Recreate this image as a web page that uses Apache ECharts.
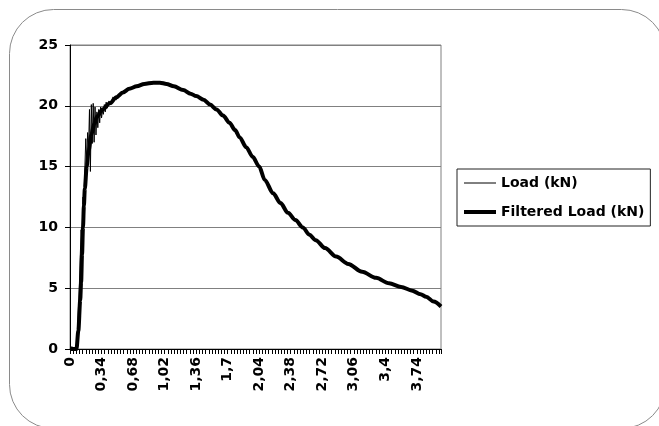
<!DOCTYPE html>
<html>
<head>
<meta charset="utf-8">
<script src="https://cdn.jsdelivr.net/npm/echarts@6/dist/echarts.min.js"></script>
<style>
  html, body { margin: 0; padding: 0; background: #fff; }
  #chart { width: 659px; height: 426px; }
</style>
</head>
<body>
<div id="chart"></div>
<script>
// Load (kN) - raw signal, noisy while rising
const loadX = [0, 0.01, 0.02, 0.03, 0.04, 0.05, 0.06, 0.07, 0.08, 0.09, 0.10, 0.11, 0.12, 0.13, 0.14,
  0.15, 0.16, 0.17, 0.18, 0.19, 0.20, 0.21, 0.22, 0.23, 0.24, 0.25, 0.26, 0.27, 0.28, 0.29, 0.30,
  0.31, 0.32, 0.33, 0.34, 0.35, 0.36, 0.37, 0.38, 0.39, 0.40, 0.42, 0.44, 0.46, 0.50, 0.57, 0.64,
  0.72, 0.80, 0.90, 0.97, 1.04, 1.12, 1.22, 1.30, 1.36, 1.44, 1.51, 1.58, 1.65, 1.72, 1.78, 1.83,
  1.90, 1.97, 2.04, 2.10, 2.19, 2.27, 2.35, 2.43, 2.51, 2.58, 2.65, 2.75, 2.87, 3.00, 3.15, 3.30,
  3.44, 3.57, 3.69, 3.78, 3.84, 3.92, 4.00];
const loadY = [0, 0, 0.2, 0, 0, 0.1, 0, 0.3, 1.5, 3.2, 5.0, 7.5, 9.8, 8.6, 12.5,
  11.0, 14.8, 17.3, 15.2, 17.8, 16.4, 19.7, 14.6, 20.1, 16.9, 20.2, 17.0, 19.9, 17.6, 19.5, 18.2,
  19.7, 18.6, 19.9, 19.0, 19.6, 19.3, 20.1, 19.5, 20.3, 19.8, 20.4, 20.1, 20.7, 20.5, 21.2, 21.4,
  21.7, 21.8, 21.9, 21.9, 21.8, 21.6, 21.3, 21.0, 20.8, 20.5, 20.1, 19.7, 19.2, 18.6, 18.0, 17.4,
  16.6, 15.8, 15.0, 13.9, 12.8, 12.0, 11.2, 10.6, 10.0, 9.4, 8.95, 8.3, 7.6, 7.0, 6.35, 5.85,
  5.4, 5.1, 4.8, 4.5, 4.3, 3.9, 3.5];

// Filtered Load (kN)
const filtX = [0, 0.04, 0.07, 0.09, 0.11, 0.12, 0.13, 0.14, 0.15, 0.16, 0.18, 0.20, 0.23, 0.26, 0.29,
  0.35, 0.43, 0.50, 0.57, 0.64, 0.72, 0.80, 0.90, 0.97, 1.04, 1.12, 1.22, 1.30, 1.36, 1.44, 1.51,
  1.58, 1.65, 1.72, 1.78, 1.83, 1.90, 1.97, 2.04, 2.10, 2.19, 2.27, 2.35, 2.43, 2.51, 2.58, 2.65,
  2.75, 2.87, 3.00, 3.15, 3.30, 3.44, 3.57, 3.69, 3.78, 3.84, 3.92, 4.00];
const filtY = [0, 0, 0, 1.5, 4.0, 5.5, 7.8, 10.0, 11.8, 13.2, 15.0, 16.3, 17.6, 18.5, 19.1,
  19.7, 20.2, 20.7, 21.1, 21.4, 21.6, 21.8, 21.9, 21.9, 21.8, 21.6, 21.3, 21.0, 20.8, 20.5, 20.1,
  19.7, 19.2, 18.6, 18.0, 17.4, 16.6, 15.8, 15.0, 13.9, 12.8, 12.0, 11.2, 10.6, 10.0, 9.4, 8.95,
  8.3, 7.6, 7.0, 6.35, 5.85, 5.4, 5.1, 4.8, 4.5, 4.3, 3.9, 3.5];

const font = 'DejaVu Sans';

const chart = echarts.init(document.getElementById('chart'));
chart.setOption({
  animation: false,
  textStyle: { fontFamily: font },
  graphic: [{
    type: 'rect',
    shape: { x: 9.5, y: 9.5, width: 656, height: 419, r: 44 },
    style: { fill: 'none', stroke: '#8a8a8a', lineWidth: 1 },
    silent: true
  }],
  grid: {
    left: 70, top: 45, width: 371, height: 304,
    show: true, borderColor: '#808080', borderWidth: 1
  },
  legend: {
    orient: 'vertical',
    left: 457, top: 169,
    padding: [7, 6, 7, 5],
    itemWidth: 32, itemHeight: 14, itemGap: 15,
    backgroundColor: '#fff',
    borderColor: '#222', borderWidth: 1,
    itemStyle: { opacity: 0 },
    textStyle: { fontFamily: font, fontSize: 14, fontWeight: 'bold', color: '#000' },
    data: [
      { name: 'Load (kN)', lineStyle: { width: 1 } },
      { name: 'Filtered Load (kN)', lineStyle: { width: 4 } }
    ]
  },
  xAxis: {
    type: 'value',
    min: 0, max: 4, interval: 0.34,
    axisLine: { lineStyle: { color: '#000', width: 1 } },
    axisTick: { show: true, length: 5, lineStyle: { color: '#000' } },
    minorTick: { show: true, splitNumber: 10, length: 5, lineStyle: { color: '#000' } },
    splitLine: { show: false },
    axisLabel: {
      rotate: 90, margin: 8, color: '#000', fontFamily: font, fontSize: 14, fontWeight: 'bold',
      showMaxLabel: false,
      formatter: v => String(+v.toFixed(2)).replace('.', ',')
    }
  },
  yAxis: {
    type: 'value',
    min: 0, max: 25, interval: 5,
    axisLine: { show: true, lineStyle: { color: '#000', width: 1 } },
    axisTick: { show: true, length: 5, lineStyle: { color: '#000' } },
    splitLine: { lineStyle: { color: '#808080', width: 1 } },
    axisLabel: { margin: 12, color: '#000', fontFamily: font, fontSize: 14, fontWeight: 'bold' }
  },
  series: [
    {
      name: 'Load (kN)',
      type: 'line',
      symbol: 'none',
      data: loadX.map((x, i) => [x, loadY[i]]),
      lineStyle: { color: '#000', width: 1 },
      itemStyle: { color: '#000' }
    },
    {
      name: 'Filtered Load (kN)',
      type: 'line',
      symbol: 'none',
      smooth: 0.3,
      smoothMonotone: 'x',
      data: filtX.map((x, i) => [x, filtY[i]]),
      lineStyle: { color: '#000', width: 4 },
      itemStyle: { color: '#000' }
    }
  ]
});
</script>
</body>
</html>
